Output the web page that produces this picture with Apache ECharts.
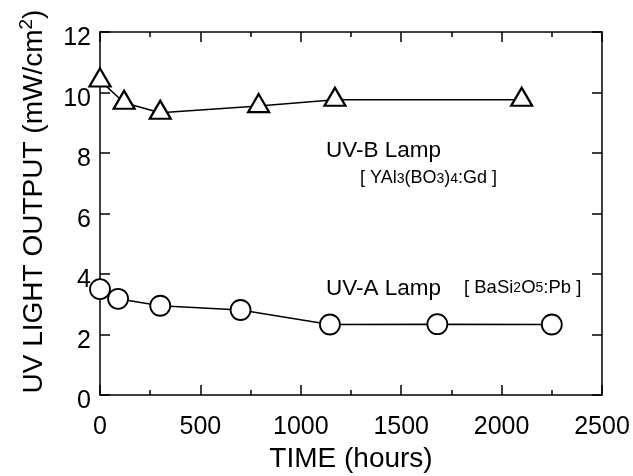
<!DOCTYPE html>
<html>
<head>
<meta charset="utf-8">
<script src="https://cdn.jsdelivr.net/npm/echarts@6/dist/echarts.min.js"></script>
<style>
  html, body { margin: 0; padding: 0; background: #fff; }
  #chart { width: 633px; height: 476px; }
</style>
</head>
<body>
<div id="chart"></div>
<script>
// UV-B lamp (triangles)
var uvbHours = [0, 120, 300, 790, 1170, 2100];
var uvbOutput = [10.4, 9.66, 9.33, 9.55, 9.76, 9.76];
// UV-A lamp (circles)
var uvaHours = [0, 90, 300, 700, 1145, 1680, 2250];
var uvaOutput = [3.5, 3.18, 2.95, 2.81, 2.33, 2.34, 2.33];

var xTicks = [0, 500, 1000, 1500, 2000, 2500];
var yTicks = [0, 2, 4, 6, 8, 10, 12];

function pairs(xs, ys) {
    return xs.map(function (x, i) { return [x, ys[i]]; });
}

var font = 'Liberation Sans, Arial, sans-serif';
var axisLine = { onZero: false, lineStyle: { color: '#000', width: 1.5 } };
var tick = { inside: true, length: 10, lineStyle: { color: '#000', width: 1.5 } };
var minor = { show: true, splitNumber: 2, length: 5, lineStyle: { color: '#000', width: 1.5 } };

var chart = echarts.init(document.getElementById('chart'));

var option = {
    animation: false,
    backgroundColor: '#fff',
    grid: { left: 100, right: 31, top: 32, bottom: 81, containLabel: false, outerBoundsMode: 'none' },
    xAxis: [
        {
            type: 'value',
            position: 'bottom',
            min: xTicks[0],
            max: xTicks[xTicks.length - 1],
            interval: 500,
            axisLine: axisLine,
            axisTick: tick,
            minorTick: minor,
            splitLine: { show: false },
            minorSplitLine: { show: false },
            axisLabel: { color: '#000', fontSize: 25, fontFamily: font, margin: 20, formatter: function (v) { return String(v); } },
            name: 'TIME (hours)',
            nameLocation: 'middle',
            nameGap: 50,
            nameTextStyle: { color: '#000', fontSize: 28, fontFamily: font }
        },
        {
            type: 'value',
            position: 'top',
            min: xTicks[0],
            max: xTicks[xTicks.length - 1],
            interval: 500,
            axisLine: axisLine,
            axisTick: tick,
            minorTick: minor,
            splitLine: { show: false },
            minorSplitLine: { show: false },
            axisLabel: { show: false }
        }
    ],
    yAxis: [
        {
            type: 'value',
            position: 'left',
            min: yTicks[0],
            max: yTicks[yTicks.length - 1],
            interval: 2,
            axisLine: axisLine,
            axisTick: tick,
            splitLine: { show: false },
            axisLabel: { color: '#000', fontSize: 25, fontFamily: font, margin: 9, verticalAlign: 'top', lineHeight: 13 },
            name: 'UV LIGHT OUTPUT (mW/cm{sup|2})',
            nameLocation: 'middle',
            nameRotate: 90,
            nameGap: 48,
            nameTextStyle: {
                color: '#000', fontSize: 28, fontFamily: font,
                padding: [0, 0, 0, 24],
                rich: {
                    sup: { color: '#000', fontSize: 19, fontFamily: font, padding: [0, 0, 16, 0] }
                }
            }
        },
        {
            type: 'value',
            position: 'right',
            min: yTicks[0],
            max: yTicks[yTicks.length - 1],
            interval: 2,
            axisLine: axisLine,
            axisTick: tick,
            splitLine: { show: false },
            axisLabel: { show: false }
        }
    ],
    graphic: [
        {
            type: 'text', left: 326, top: 139,
            style: { text: 'UV-B Lamp', fill: '#000', font: '22.5px ' + font }
        },
        {
            type: 'text', left: 360, top: 169,
            style: {
                text: '[ YAl{s|3}(BO{s|3}){s|4}:Gd ]',
                fill: '#000', font: '18px ' + font,
                rich: { s: { fontSize: 14, fontFamily: font, fill: '#000', padding: [2, 0, 0, 0] } }
            }
        },
        {
            type: 'text', left: 326, top: 277,
            style: { text: 'UV-A Lamp', fill: '#000', font: '22.5px ' + font }
        },
        {
            type: 'text', left: 464, top: 278,
            style: {
                text: '[ BaSi{s|2}O{s|5}:Pb ]',
                fill: '#000', font: '18.5px ' + font,
                rich: { s: { fontSize: 14, fontFamily: font, fill: '#000', padding: [2, 0, 0, 0] } }
            }
        }
    ],
    series: [
        {
            name: 'UV-B Lamp',
            type: 'line',
            data: pairs(uvbHours, uvbOutput),
            symbol: 'triangle',
            symbolSize: [21, 18],
            symbolOffset: [0, -3],
            showAllSymbol: true,
            lineStyle: { color: '#000', width: 1.5 },
            itemStyle: { color: '#fff', borderColor: '#000', borderWidth: 2.2 },
            z: 3
        },
        {
            name: 'UV-A Lamp',
            type: 'line',
            data: pairs(uvaHours, uvaOutput),
            symbol: 'circle',
            symbolSize: 20,
            showAllSymbol: true,
            lineStyle: { color: '#000', width: 1.5 },
            itemStyle: { color: '#fff', borderColor: '#000', borderWidth: 1.8 },
            z: 3
        }
    ]
};

chart.setOption(option);
</script>
</body>
</html>
